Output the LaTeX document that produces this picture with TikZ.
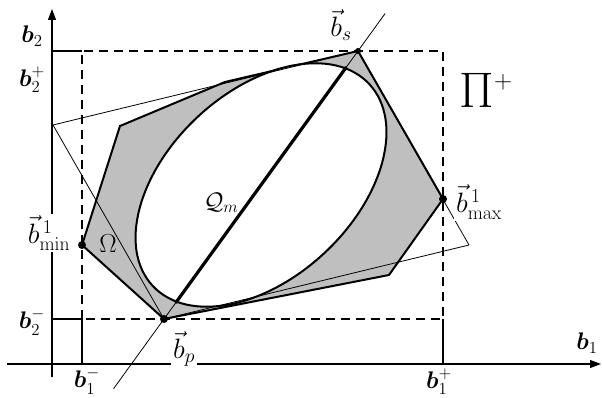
\RequirePackage{fix-cm}
\documentclass[tikz,border=0pt]{standalone}
\usepackage{amsmath}
\usepackage{bm}
\usepackage{tikz}
\usetikzlibrary{arrows.meta, calc}

\begin{document}
\begin{tikzpicture}[
  x=1pt, y=1pt,
  axis/.style={line width=1.1pt, -{Triangle[length=11pt, width=8pt]}},
  tickline/.style={line width=1.1pt},
  bound/.style={line width=1.8pt, dash pattern=on 9pt off 6pt},
  hull/.style={line width=2pt, fill=black!25, line join=miter},
  supp/.style={line width=0.8pt},
  diam/.style={line width=3.2pt},
  dot/.style={circle, fill=black, inner sep=0pt, minimum size=8pt},
  blab/.style={font=\fontsize{24}{28}\selectfont, inner sep=1pt},
  vlab/.style={font=\fontsize{28}{32}\selectfont, inner sep=2pt, fill=white}
]
\useasboundingbox (0,0) rectangle (602,398);

\coordinate (xleft) at (7,34);
\coordinate (xright) at (601,34);
\coordinate (ybot) at (52,21);
\coordinate (ytop) at (52,389);
\coordinate (lo) at (82,79);
\coordinate (hi) at (443,347);

\coordinate (bmin) at (82,153);
\coordinate (v2) at (120,272);
\coordinate (v3) at (225,316);
\coordinate (bs) at (358,347);
\coordinate (bmax) at (443,199);
\coordinate (v6) at (389,123);
\coordinate (bp) at (164,79);
\coordinate (pl) at (53,273);
\coordinate (pr) at (469,153);
\coordinate (ctr) at ($(bp)!0.5!(bs)$);
\coordinate (dlo) at ($(bp)!-0.26!(bs)$);
\coordinate (dhi) at ($(bp)!1.14!(bs)$);
\coordinate (qa) at ($(bp)!0.06!(bs)$);
\coordinate (qb) at ($(bp)!0.94!(bs)$);

\filldraw[hull] (bmin) -- (v2) -- (v3) -- (bs) -- (bmax) -- (v6) -- (bp) -- cycle;
\draw[line width=2pt, fill=white, rotate around={43:(ctr)}] (ctr) ellipse [x radius=148, y radius=93];

\draw[supp] (pl) -- (bs);
\draw[supp] (pl) -- (bp);
\draw[supp] (bp) -- (pr);
\draw[supp] (bs) -- (pr);
\draw[supp] (dlo) -- (dhi);
\draw[diam] (qa) -- (qb);

\draw[bound] (lo) rectangle (hi);
\draw[tickline] (ybot |- hi) -- (lo |- hi);
\draw[tickline] (ybot |- lo) -- (lo);
\draw[tickline] (lo |- xleft) -- (lo);
\draw[tickline] (hi |- xleft) -- (hi |- lo);
\draw[axis] (ybot) -- (ytop);
\draw[axis] (xleft) -- (xright);

\node[dot] (dmin) at (bmin) {};
\node[dot] (dp) at (bp) {};
\node[dot] (dmax) at (bmax) {};
\node[dot, minimum size=6pt] (ds) at (bs) {};

\node[blab] (lb2) at (32,362) {$\bm{b}_2$};
\node[blab] (lb2p) at (32,318) {$\bm{b}_2^+$};
\node[blab] (lb2m) at (32,76) {$\bm{b}_2^-$};
\node[blab] (lb1m) at (87,17) {$\bm{b}_1^-$};
\node[blab] (lb1p) at (439,16) {$\bm{b}_1^+$};
\node[blab] (lb1) at (587,55) {$\bm{b}_1$};

\node[vlab] (lbs) at (341,373) {$\vec{b}_s$};
\node[vlab] (lbp) at (184,49) {$\vec{b}_p$};
\node[vlab] (lbmax) at (479,196) {$\vec{b}^{\,1}_{\max}$};
\node[vlab] (lbmin) at (49,165) {$\vec{b}^{\,1}_{\min}$};
\node[font=\fontsize{26}{30}\selectfont, inner sep=0pt] (lom) at (108,154) {$\Omega$};
\node[font=\fontsize{24}{28}\selectfont, inner sep=0pt] (lq) at (221,195) {$\mathcal{Q}_m$};
\node[font=\fontsize{50}{54}\selectfont, inner sep=0pt] (lpi) at (486,308) {$\Pi^{\scriptscriptstyle +}$};
\end{tikzpicture}
\end{document}
